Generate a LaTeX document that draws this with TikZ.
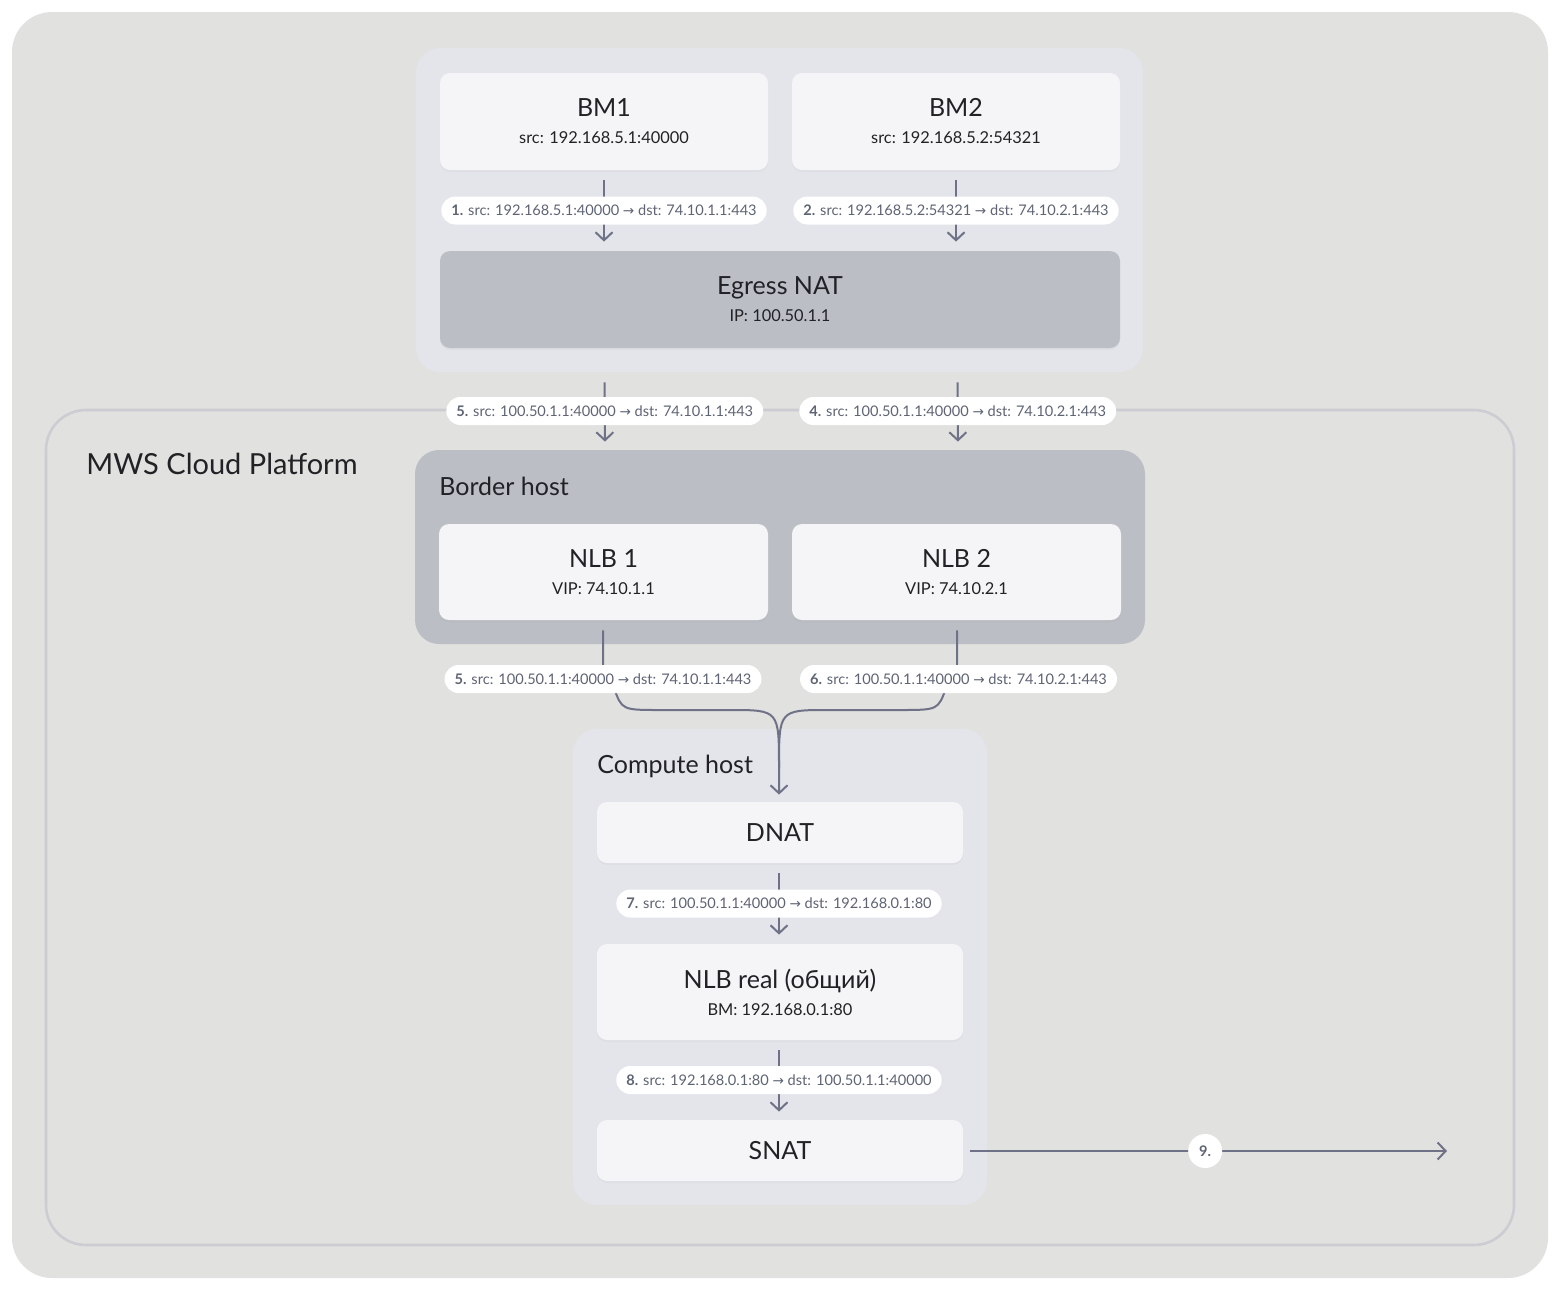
\documentclass[tikz,border=0pt]{standalone}
\usepackage{fontspec}
\setmainfont{Lato}
\newfontfamily\arrowfont{DejaVu Sans}
\usetikzlibrary{arrows.meta,calc,shadows}
\definecolor{bgc}{HTML}{E1E1DF}
\definecolor{panelc}{HTML}{E3E5EB}
\definecolor{boxc}{HTML}{F5F5F7}
\definecolor{darkc}{HTML}{BBBEC5}
\definecolor{framec}{HTML}{CBCDD3}
\definecolor{txtc}{HTML}{222226}
\definecolor{pillc}{HTML}{5F6475}
\definecolor{arrc}{HTML}{6F7286}
\newcommand\pn[1]{\textbf{#1}}
\newcommand\ra{{\arrowfont\fontsize{6.8}{8}\selectfont →}}
\newcommand\ttl[1]{{\fontsize{12.5}{15}\selectfont #1}}
\newcommand\sub[1]{{\fontsize{8.2}{10}\selectfont #1}}
\tikzset{
  panel/.style={fill=panelc, rounded corners=12pt, inner sep=0pt},
  darkbox/.style={fill=darkc, rounded corners=12pt, inner sep=0pt},
  box/.style={fill=boxc, rounded corners=5pt, inner sep=0pt, align=center, text=txtc,
    drop shadow={opacity=0.06, shadow xshift=0pt, shadow yshift=-1pt}},
  dbox/.style={fill=darkc, rounded corners=5pt, inner sep=0pt, align=center, text=txtc,
    drop shadow={opacity=0.06, shadow xshift=0pt, shadow yshift=-1pt}},
  pill/.style={fill=white, rounded corners=7pt, minimum height=14pt, inner xsep=5pt, inner ysep=0pt,
    text=pillc, font=\fontsize{7.3}{8}\selectfont},
  arr/.style={draw=arrc, line width=1pt, -{Straight Barb[length=4pt,width=8.5pt,line width=1pt]}},
  ln/.style={draw=arrc, line width=1pt},
  htitle/.style={text=txtc, inner sep=0pt, font=\fontsize{12.5}{15}\selectfont},
}
\begin{document}
\begin{tikzpicture}[x=0.5pt,y=-0.5pt]
\useasboundingbox (0,0) rectangle (1560,1291);
\fill[bgc, rounded corners=20pt] (12,12) rectangle (1548,1278);
% cloud frame
\draw[framec, line width=1.3pt, rounded corners=20pt] (46,410) rectangle (1514,1245);
\node[anchor=base west, inner sep=0pt, text=txtc, font=\fontsize{14.5}{17}\selectfont] (mws) at (86,474) {MWS Cloud Platform};

% top panel
\node[panel, minimum width=363.5pt, minimum height=162pt] (top) at (779.5,210) {};
\node[box, minimum width=164pt, minimum height=48.5pt] (bm1) at (604,121.5) {\ttl{BM1}\\[1.5pt]\sub{src: 192.168.5.1:40000}};
\node[box, minimum width=164pt, minimum height=48.5pt] (bm2) at (956,121.5) {\ttl{BM2}\\[1.5pt]\sub{src: 192.168.5.2:54321}};
\node[dbox, minimum width=340pt, minimum height=48.5pt] (egress) at (780,299.5) {\ttl{Egress NAT}\\[1.5pt]\sub{IP: 100.50.1.1}};

\draw[arr, shorten <=5pt, shorten >=4.5pt] (bm1.south) -- (bm1.south |- egress.north)
  node[pill, midway] (p1) {\pn{1.} src: 192.168.5.1:40000 \ra{} dst: 74.10.1.1:443};
\draw[arr, shorten <=5pt, shorten >=4.5pt] (bm2.south) -- (bm2.south |- egress.north)
  node[pill, midway] (p2) {\pn{2.} src: 192.168.5.2:54321 \ra{} dst: 74.10.2.1:443};

% border host
\node[darkbox, minimum width=365pt, minimum height=97pt] (border) at (780,547) {};
\node[htitle, anchor=base west] (bht) at (439,495) {Border host};
\node[box, minimum width=164.5pt, minimum height=48pt] (nlb1) at (603.5,572) {\ttl{NLB 1}\\[1.5pt]\sub{VIP: 74.10.1.1}};
\node[box, minimum width=164.5pt, minimum height=48pt] (nlb2) at (956.5,572) {\ttl{NLB 2}\\[1.5pt]\sub{VIP: 74.10.2.1}};

\draw[arr, shorten <=5pt, shorten >=4pt] ($(top.south)+(-175,0)$) -- ($(border.north)+(-175,0)$)
  node[pill, midway] (p5a) {\pn{5.} src: 100.50.1.1:40000 \ra{} dst: 74.10.1.1:443};
\draw[arr, shorten <=5pt, shorten >=4pt] ($(top.south)+(178,0)$) -- ($(border.north)+(178,0)$)
  node[pill, midway] (p4) {\pn{4.} src: 100.50.1.1:40000 \ra{} dst: 74.10.2.1:443};

% compute host
\node[panel, minimum width=207pt, minimum height=238pt] (compute) at (780,967) {};
\node[htitle, anchor=base west] (cht) at (597,773) {Compute host};
\node[box, minimum width=183pt, minimum height=30.5pt] (dnat) at (780,832.5) {\ttl{DNAT}};
\node[box, minimum width=183pt, minimum height=48pt] (real) at (780,992) {\ttl{NLB real (общий)}\\[1.5pt]\sub{BM: 192.168.0.1:80}};
\node[box, minimum width=183pt, minimum height=30.5pt] (snat) at (780,1150.5) {\ttl{SNAT}};

% merging connectors
\coordinate (merge) at (779,710);
\draw[ln] ($(nlb1.south)+(-0.5,10)$) -- ($(nlb1.south)+(-0.5,55)$) -- (614,688)
  .. controls (622,710) .. (660,710) -- (730,710) .. controls (779,710) .. (779,768);
\draw[arr] ($(nlb2.south)+(0.5,10)$) -- ($(nlb2.south)+(0.5,55)$) -- (946,688)
  .. controls (938,710) .. (900,710) -- (828,710) .. controls (779,710) .. (779,768)
  -- ($(dnat.north)+(-1,-7)$);
\node[pill] (p5b) at (603,679) {\pn{5.} src: 100.50.1.1:40000 \ra{} dst: 74.10.1.1:443};
\node[pill] (p6) at (958.5,679) {\pn{6.} src: 100.50.1.1:40000 \ra{} dst: 74.10.2.1:443};

\draw[arr, shorten <=5pt, shorten >=4.5pt] ($(dnat.south)+(-1,0)$) -- ($(real.north)+(-1,0)$)
  node[pill, midway] (p7) {\pn{7.} src: 100.50.1.1:40000 \ra{} dst: 192.168.0.1:80};
\draw[arr, shorten <=5pt, shorten >=4pt] ($(real.south)+(-1,0)$) -- ($(snat.north)+(-1,0)$)
  node[pill, midway] (p8) {\pn{8.} src: 192.168.0.1:80 \ra{} dst: 100.50.1.1:40000};

\coordinate (out) at (1447,1151);
\draw[arr, shorten <=3.5pt] (snat.east |- out) -- (out)
  node[midway, circle, fill=white, inner sep=0pt, minimum size=17pt, text=pillc, font=\fontsize{7.3}{8}\selectfont\bfseries] (p9) {9.};
\end{tikzpicture}
\end{document}
